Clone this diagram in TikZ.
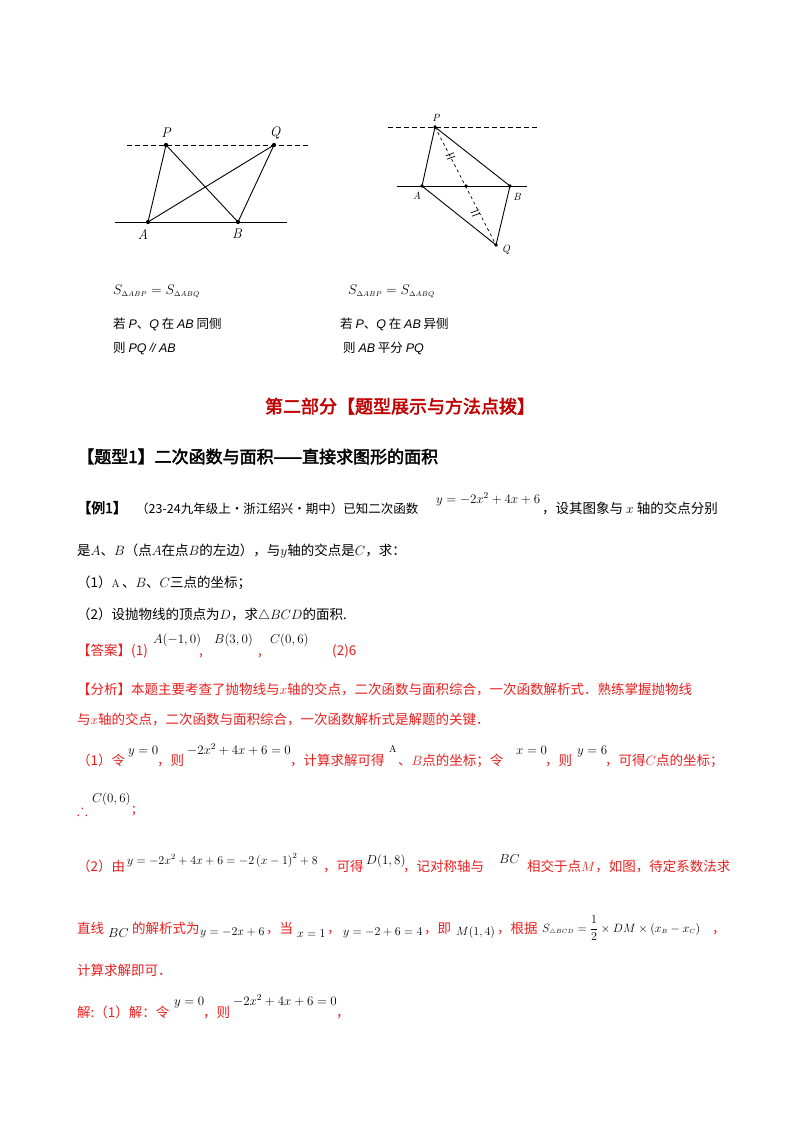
\RequirePackage{fix-cm}
\documentclass[tikz,border=0pt]{standalone}
\usepackage{amsmath,amssymb}
\usepackage{fontspec}
\newfontfamily\zh{Noto Sans CJK SC}[AutoFakeBold=2.5]
\newfontfamily\ls{Liberation Sans}
\definecolor{rd}{RGB}{235,30,30}
\definecolor{tr}{RGB}{192,0,0}
\begin{document}
\begin{tikzpicture}[x=1pt,y=-1pt,
  t/.style={anchor=base west,inner sep=0pt,font=\zh\fontsize{13.5}{15}\selectfont},
  m/.style={anchor=base west,inner sep=0pt,font=\fontsize{13}{14}\selectfont},
  s/.style={anchor=base west,inner sep=0pt,font=\zh\fontsize{12.5}{14}\selectfont},
  dot/.style={circle,fill,inner sep=1.6pt},
  lbl/.style={inner sep=0pt,font=\fontsize{14}{15}\selectfont\itshape},
  geo/.style={line width=0.9pt}]
\useasboundingbox (0,0) rectangle (800,1132);
\fill[white] (0,0) rectangle (800,1132);
% figure 1
\coordinate (d1a) at (127,145); \coordinate (d1b) at (309,145);
\coordinate (s1a) at (115,222); \coordinate (s1b) at (287,222);
\node[dot,inner sep=1.5pt] (P1) at (166,145) {};
\node[dot,inner sep=1.5pt] (Q1) at (274,145) {};
\node[dot,inner sep=1.5pt] (A1) at (148,222) {};
\node[dot,inner sep=1.5pt] (B1) at (238,222) {};
\draw[geo,dashed,dash pattern=on 5pt off 3pt] (d1a) -- (d1b);
\draw[geo] (s1a) -- (s1b);
\draw[geo] (A1.center) -- (P1.center) -- (B1.center) -- (Q1.center) -- (A1.center);
\node[lbl] (lP1) at (166,133) {P};
\node[lbl] (lQ1) at (275,133) {Q};
\node[lbl] (lA1) at (143,234) {A};
\node[lbl] (lB1) at (237,234) {B};
% figure 2
\coordinate (d2a) at (388,127); \coordinate (d2b) at (537,127);
\coordinate (s2a) at (397,186); \coordinate (s2b) at (527,186);
\node[dot,inner sep=1.3pt] (P2) at (435,127) {};
\node[dot,inner sep=1.3pt] (A2) at (422,186) {};
\node[dot,inner sep=1.3pt] (B2) at (510,186) {};
\node[dot,inner sep=1.3pt] (M2) at (466,186) {};
\node[dot,inner sep=1.3pt] (Q2) at (496,245) {};
\draw[geo,dashed,dash pattern=on 5pt off 3pt,line width=0.7pt] (d2a) -- (d2b);
\draw[geo] (s2a) -- (s2b);
\draw[geo] (A2.center) -- (P2.center) -- (B2.center) -- (Q2.center) -- (A2.center);
\draw[dashed,line width=0.7pt] (P2.center) -- (Q2.center);
\foreach \px/\py in {450/157,475/214}{
  \draw[line width=0.7pt] (\px-4,\py-1.2) -- (\px+4,\py-4.2);
  \draw[line width=0.7pt] (\px-3,\py+2.2) -- (\px+5,\py-0.8);}
\node[lbl,font=\fontsize{10.5}{11}\selectfont\itshape] (lP2) at (436,118) {P};
\node[lbl,font=\fontsize{10.5}{11}\selectfont\itshape] (lA2) at (417,196) {A};
\node[lbl,font=\fontsize{10.5}{11}\selectfont\itshape] (lB2) at (517,197) {B};
\node[lbl,font=\fontsize{10.5}{11}\selectfont\itshape] (lQ2) at (506,250) {Q};
% captions
\node[m,font=\fontsize{14}{15}\selectfont] (c1) at (113,294) {$S_{\scriptscriptstyle\Delta ABP}=S_{\scriptscriptstyle\Delta ABQ}$};
\node[m,font=\fontsize{14}{15}\selectfont] (c2) at (348,294) {$S_{\scriptscriptstyle\Delta ABP}=S_{\scriptscriptstyle\Delta ABQ}$};
\node[s] (c3) at (113,328) {若 {\ls\itshape P}、{\ls\itshape Q} 在 {\ls\itshape AB} 同侧};
\node[s] (c4) at (113,352) {则 {\ls\itshape PQ}∥{\ls\itshape AB}};
\node[s] (c5) at (340,328) {若 {\ls\itshape P}、{\ls\itshape Q} 在 {\ls\itshape AB} 异侧};
\node[s] (c6) at (343,352) {则 {\ls\itshape AB} 平分 {\ls\itshape PQ}};
% titles
\node[anchor=base,inner sep=0pt,font=\zh\fontsize{18}{20}\selectfont\bfseries,text=tr] (h1) at (400,413) {第二部分【题型展示与方法点拨】};
\node[t,font=\zh\fontsize{17}{19}\selectfont\bfseries] (h2) at (77,463) {【题型1】二次函数与面积——直接求图形的面积};
% example
\node[t,font=\zh\fontsize{14}{16}\selectfont\bfseries] (e1) at (77,513) {【例1】};
\node[t,font=\zh\fontsize{12.5}{14}\selectfont] (e2) at (136,513) {（23-24九年级上·浙江绍兴·期中）已知二次函数};
\node[m] (e3) at (436,503) {$y=-2x^2+4x+6$};
\node[t] (e4) at (542,513) {，设其图象与 $x$ 轴的交点分别};
\node[t] (e5) at (77,555) {是$A$、$B$（点$A$在点$B$的左边），与$y$轴的交点是$C$，求：};
\node[t] (e6) at (77,587) {（1）{\fontsize{11}{12}\selectfont$\mathrm{A}$}\,、$B$、$C$三点的坐标；};
\node[t] (e7) at (77,619) {（2）设抛物线的顶点为$D$，求$\triangle BCD$的面积.};
% answer
\node[t,text=rd] (a1) at (77,655) {【答案】(1)};
\node[m] (a2) at (153,643) {$A(-1,0)$};
\node[t,text=rd] (a3) at (199,655) {,};
\node[m] (a4) at (214,643) {$B(3,0)$};
\node[t,text=rd] (a5) at (258,655) {,};
\node[m] (a6) at (270,643) {$C(0,6)$};
\node[t,text=rd] (a7) at (332,655) {(2)6};
% analysis
\node[t,text=rd] (b1) at (77,694) {【分析】本题主要考查了抛物线与$x$轴的交点，二次函数与面积综合，一次函数解析式．熟练掌握抛物线};
\node[t,text=rd] (b2) at (77,724) {与$x$轴的交点，二次函数与面积综合，一次函数解析式是解题的关键．};
\node[t,text=rd] (b3) at (77,765) {（1）令};
\node[m] (b4) at (128,754) {$y=0$};
\node[t,text=rd] (b5) at (157,765) {，则};
\node[m] (b6) at (187,754) {$-2x^2+4x+6=0$};
\node[t,text=rd] (b7) at (290,765) {，计算求解可得};
\node[m,font=\fontsize{10}{10}\selectfont] (b8) at (389,752) {$\mathrm{A}$};
\node[t,text=rd] (b9) at (398,765) {、$B$点的坐标；令};
\node[m] (b10) at (516,754) {$x=0$};
\node[t,text=rd] (b11) at (545,765) {，则};
\node[m] (b12) at (577,754) {$y=6$};
\node[t,text=rd] (b13) at (605,765) {，可得$C$点的坐标；};
\node[t,text=rd,font=\fontsize{16}{16}\selectfont] (b14) at (77,815) {$\therefore$};
\node[m] (b15) at (92,802) {$C(0,6)$};
\node[t,text=rd] (b16) at (132,813) {;};
\node[t,text=rd] (b17) at (77,871) {（2）由};
\node[m,font=\fontsize{12}{13}\selectfont] (b18) at (127,864) {$y=-2x^2+4x+6=-2\left(x-1\right)^2+8$};
\node[t,text=rd] (b19) at (323,871) {，可得};
\node[m] (b20) at (366,864) {$D(1,8)$};
\node[t,text=rd] (b21) at (403,871) {，记对称轴与};
\node[m] (b22) at (499,863) {$BC$};
\node[t,text=rd] (b23) at (527,871) {相交于点$M$，如图，待定系数法求};
\node[t,text=rd] (b24) at (77,933) {直线};
\node[m] (b25) at (108,937) {$BC$};
\node[t,text=rd] (b26) at (132,933) {的解析式为};
\node[m,font=\fontsize{12}{13}\selectfont] (b27) at (200,935) {$y=-2x+6$};
\node[t,text=rd] (b28) at (266,933) {，当};
\node[m,font=\fontsize{12}{13}\selectfont] (b29) at (297,937) {$x=1$};
\node[t,text=rd] (b30) at (327,933) {，};
\node[m,font=\fontsize{12}{13}\selectfont] (b31) at (343,935) {$y=-2+6=4$};
\node[t,text=rd] (b32) at (424,933) {，即};
\node[m,font=\fontsize{12}{13}\selectfont] (b33) at (456,935) {$M(1,4)$};
\node[t,text=rd] (b34) at (497,933) {，根据};
\node[m,font=\fontsize{12}{13}\selectfont] (b35) at (542,932) {$S_{\scriptscriptstyle \triangle BCD}=\dfrac{1}{2}\times DM\times\left(x_{\scriptscriptstyle B}-x_{\scriptscriptstyle C}\right)$};
\node[t,text=rd] (b36) at (712,933) {，};
\node[t,text=rd] (b37) at (77,975) {计算求解即可．};
\node[t,text=rd] (b38) at (77,1017) {解:（1）解：令};
\node[m] (b39) at (174,1005) {$y=0$};
\node[t,text=rd] (b40) at (203,1017) {，则};
\node[m] (b41) at (233,1005) {$-2x^2+4x+6=0$};
\node[t,text=rd] (b42) at (336,1017) {，};
\end{tikzpicture}
\end{document}
